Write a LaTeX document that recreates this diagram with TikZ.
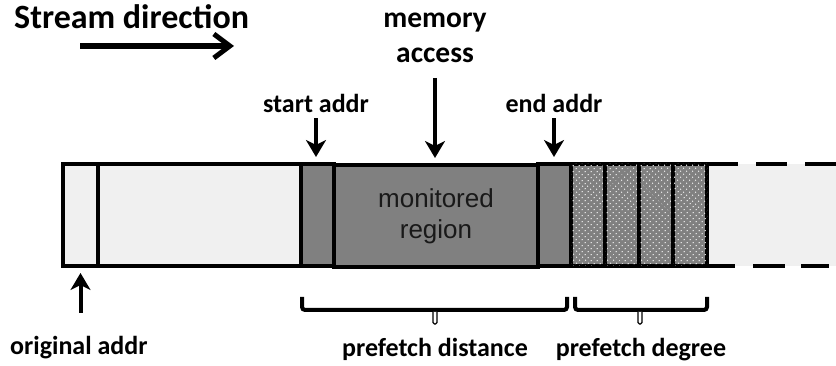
\documentclass[tikz,border=0pt]{standalone}
\usepackage{fontspec}
\setmainfont{Carlito}
\newfontfamily\arialfont{Liberation Sans}
\usetikzlibrary{arrows.meta,patterns.meta}
\definecolor{lightfill}{HTML}{F0F0F0}
\definecolor{darkfill}{HTML}{808080}
\definecolor{dotcol}{HTML}{EBEBEB}
\begin{document}
\begin{tikzpicture}[x=1pt,y=-1pt,
  blk/.style={draw=black, line width=3.5pt, inner sep=0pt, minimum height=102pt, outer sep=0pt},
  light/.style={blk, fill=lightfill},
  dark/.style={blk, fill=darkfill},
  dotted blk/.style={blk, fill=darkfill, postaction={pattern={Dots[angle=45,distance=4pt,radius=0.75pt]}, pattern color=dotcol}},
  lbl/.style={font=\bfseries\fontsize{26}{31}\selectfont, inner sep=0pt},
  dnarrow/.style={line width=4pt, -{Stealth[length=17pt,width=20pt,inset=5pt]}},
  brace/.style={line width=4pt, rounded corners=3pt},
  tip/.style={line width=1.3pt, fill=white, rounded corners=1.5pt}]
\useasboundingbox (0,0) rectangle (836,366);

% tail of the stream
\fill[lightfill] (707,164) rectangle (836,266);
\draw[line width=3.5pt, dash pattern=on 31pt off 18pt] (707,164) -- (836,164);
\draw[line width=3.5pt, dash pattern=on 28pt off 18pt on 32pt off 16pt] (707,266) -- (836,266);

% blocks
\node[light, minimum width=35pt] (b0) at (80.5,215) {};
\node[light, minimum width=203pt] (b1) at (199.5,215) {};
\node[dark, minimum width=33pt] (s1) at (317.5,215) {};
\node[dark, minimum width=204pt, font=\arialfont\fontsize{26}{31}\selectfont, align=center, text=black!90] (mon) at (436,216) {monitored\\region};
\node[dark, minimum width=33pt] (s2) at (554.5,215) {};
\node[dotted blk, minimum width=34pt] (p1) at (588,215) {};
\node[dotted blk, minimum width=34pt] (p2) at (622,215) {};
\node[dotted blk, minimum width=34pt] (p3) at (656,215) {};
\node[dotted blk, minimum width=34pt] (p4) at (690,215) {};

% title and stream arrow
\node[font=\bfseries\fontsize{34}{40}\selectfont, inner sep=0pt, anchor=base west] (title) at (14,29) {Stream direction};
\coordinate (st0) at (80,46);
\coordinate (st1) at (234,46);
\draw[line width=5.5pt, -{Straight Barb[length=16pt,width=24pt,line width=5pt]}] (st0) -- (st1);

% labels above
\node[lbl, font=\bfseries\fontsize{29.5}{35}\selectfont, align=center, anchor=south] (mem) at (435,63) {memory\\access};
\node[lbl, anchor=base] (startl) at (316,113) {start addr};
\node[lbl, anchor=base] (endl) at (554,113) {end addr};
\draw[dnarrow, shorten <=15pt, shorten >=7pt] (mem.south) -- (mem.south |- mon.north);
\draw[dnarrow, shorten <=5pt, shorten >=7pt] (startl.south) -- (startl.south |- s1.north);
\draw[dnarrow, shorten <=5pt, shorten >=7pt] (endl.south) -- (endl.south |- s2.north);

% original addr
\node[lbl, anchor=base west] (origl) at (10,355) {original addr};
\draw[dnarrow, shorten <=24pt, shorten >=7pt] (origl.north -| b0.south) -- (b0.south);

% braces
\coordinate (d0) at (302,297);
\coordinate (dm) at (435,310);
\coordinate (d1) at (567,297);
\coordinate (g0) at (575,297);
\coordinate (gm) at (640,310);
\coordinate (g1) at (707,297);
\draw[brace] (d0) |- (dm) -| (d1);
\draw[brace] (g0) |- (gm) -| (g1);
\draw[tip] (433,312) -- (433,324) -- (437,324) -- (437,312);
\draw[tip] (638,312) -- (638,324) -- (642,324) -- (642,312);
\node[lbl, anchor=base] (pdist) at (435,356) {prefetch distance};
\node[lbl, anchor=base] (pdeg) at (641,356) {prefetch degree};
\end{tikzpicture}
\end{document}
